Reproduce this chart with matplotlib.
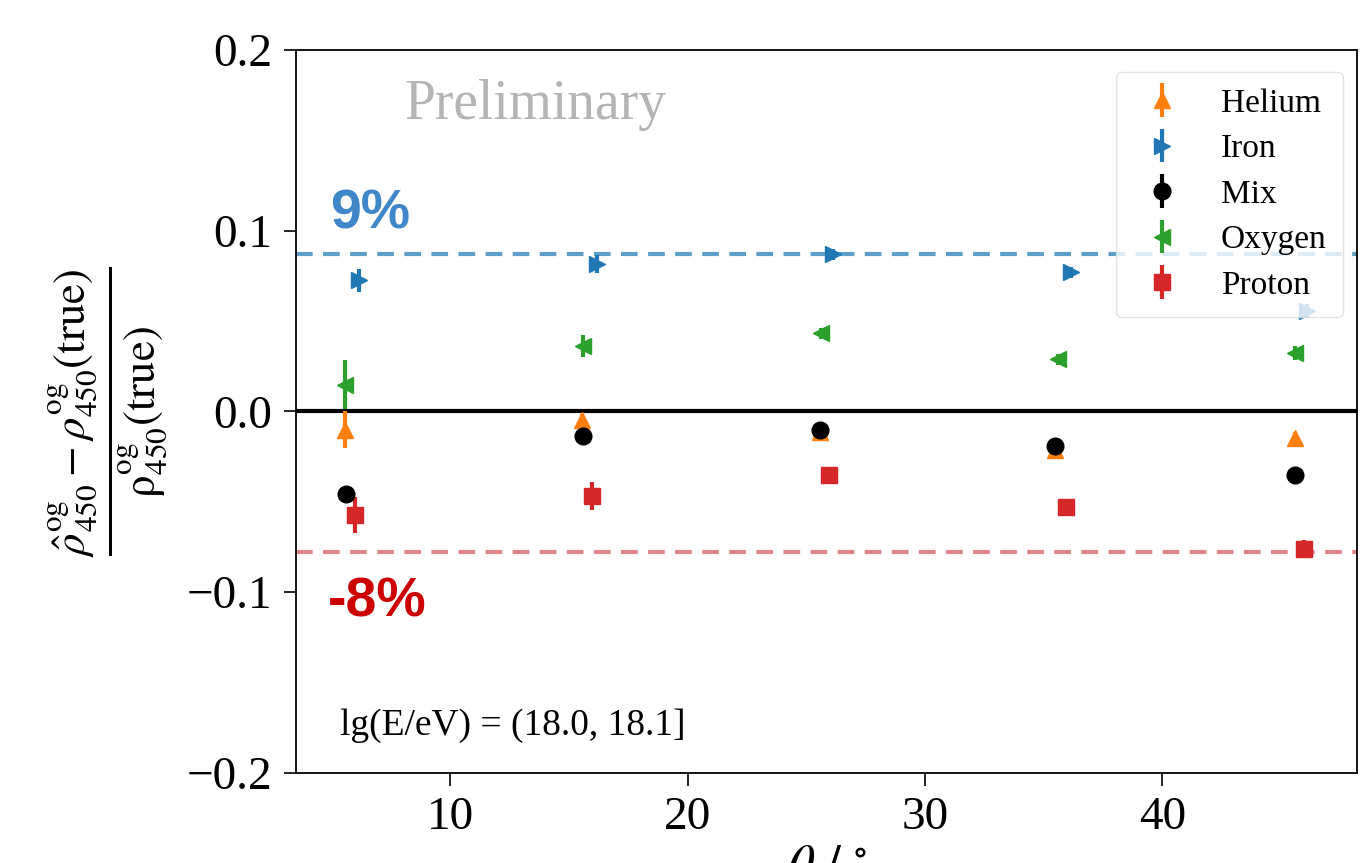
import matplotlib
matplotlib.use("Agg")
import matplotlib.pyplot as plt
import numpy as np

plt.rcParams["font.family"] = ["Liberation Serif", "DejaVu Serif"]
plt.rcParams["mathtext.fontset"] = "stix"

# zenith angle bins (deg) and relative rho_450 bias per primary
theta_he = [5.58, 15.54, 25.57, 35.50, 45.60]
bias_he  = [-0.0100, -0.0045, -0.0115, -0.0215, -0.0146]
err_he   = [0.0102, 0.0030, 0.0020, 0.0020, 0.0030]

theta_fe = [6.14, 16.20, 26.13, 36.17, 46.08]
bias_fe  = [0.0726, 0.0817, 0.0869, 0.0771, 0.0555]
err_fe   = [0.0063, 0.0050, 0.0030, 0.0030, 0.0040]

theta_mix = [5.62, 15.60, 25.57, 35.50, 45.60]
bias_mix  = [-0.0459, -0.0137, -0.0100, -0.0192, -0.0354]
err_mix   = [0.0020, 0.0020, 0.0020, 0.0020, 0.0020]

theta_o = [5.58, 15.58, 25.61, 35.60, 45.60]
bias_o  = [0.0149, 0.0361, 0.0432, 0.0288, 0.0325]
err_o   = [0.0134, 0.0060, 0.0030, 0.0030, 0.0040]

theta_p = [5.97, 15.96, 25.96, 35.95, 45.95]
bias_p  = [-0.0574, -0.0468, -0.0354, -0.0527, -0.0760]
err_p   = [0.0101, 0.0078, 0.0030, 0.0030, 0.0050]

upper_band = 0.087
lower_band = -0.078

fig = plt.figure(figsize=(13.65, 8.63), dpi=100)
ax = fig.add_axes([0.2168, 0.1043, 0.7773, 0.8378])

ax.axhline(upper_band, color="#5d9fc9", ls="--", lw=3, dashes=(4, 2.5), zorder=1)
ax.axhline(lower_band, color="#e08587", ls="--", lw=3, dashes=(4, 2.5), zorder=1)
ax.axhline(0.0, color="black", lw=3, zorder=1)

kw = dict(ls="none", elinewidth=3, capsize=0, zorder=3)
ax.errorbar(theta_he, bias_he, yerr=err_he, marker="^", ms=11,
            color="tab:orange", label="Helium", **kw)
ax.errorbar(theta_fe, bias_fe, yerr=err_fe, marker=">", ms=11,
            color="tab:blue", label="Iron", **kw)
ax.errorbar(theta_mix, bias_mix, yerr=err_mix, marker="o", ms=12,
            color="black", label="Mix", **kw)
ax.errorbar(theta_o, bias_o, yerr=err_o, marker="<", ms=11,
            color="tab:green", label="Oxygen", **kw)
ax.errorbar(theta_p, bias_p, yerr=err_p, marker="s", ms=11,
            color="tab:red", label="Proton", **kw)

ax.set_xlim(3.5, 48.2)
ax.set_ylim(-0.2, 0.2)
ax.set_xticks([10, 20, 30, 40])
ax.set_yticks([-0.2, -0.1, 0.0, 0.1, 0.2])
ax.tick_params(labelsize=34, length=9, width=1.2, pad=8)
for s in ax.spines.values():
    s.set_linewidth(1.3)

ax.set_ylabel(r"$\frac{\hat{\rho}^{\rm og}_{450}-\rho^{\rm og}_{450}(\rm true)}"
              r"{\rho^{\rm og}_{450}(\rm true)}$", fontsize=46, labelpad=12)
ax.set_xlabel(r"$\theta\ /\ ^{\circ}$", fontsize=38, labelpad=4)

ax.text(0.102, 0.924, "Preliminary", transform=ax.transAxes, fontsize=40,
        color="#b4b4b4", va="center", ha="left")
ax.text(0.042, 0.065, "lg(E/eV) = (18.0, 18.1]", transform=ax.transAxes,
        fontsize=27, va="center", ha="left")

ax.text(0.032, 0.772, "9%", transform=ax.transAxes, fontsize=40,
        fontweight="bold", color="#3f87c9", family="Liberation Sans",
        va="center", ha="left")
ax.text(0.030, 0.236, "-8%", transform=ax.transAxes, fontsize=40,
        fontweight="bold", color="#cc0000", family="Liberation Sans",
        va="center", ha="left")

ax.legend(loc="upper right", bbox_to_anchor=(0.987, 0.97), borderaxespad=0,
          fontsize=24, handlelength=1.8, handletextpad=0.85, labelspacing=0.45,
          borderpad=0.5, framealpha=0.8, edgecolor="#dddddd")

fig.savefig("out.png", dpi=100)
